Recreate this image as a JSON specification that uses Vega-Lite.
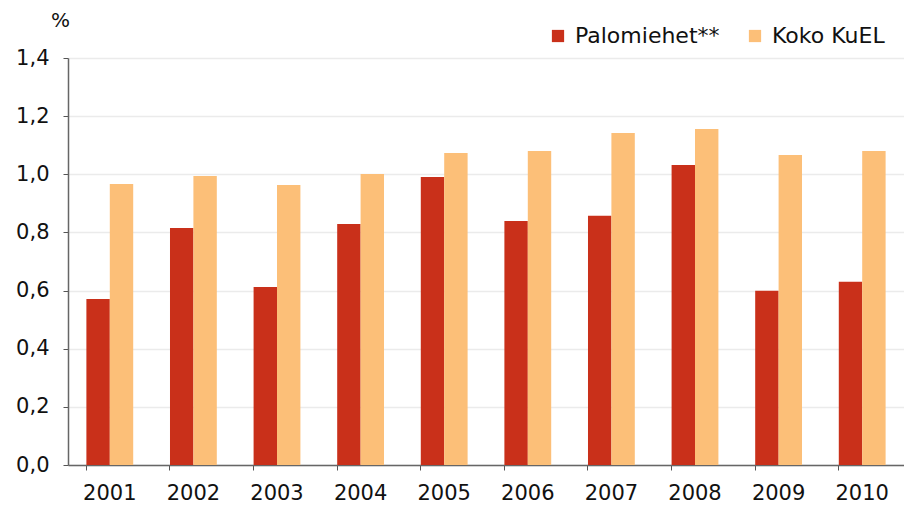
{
  "$schema": "https://vega.github.io/schema/vega-lite/v6.json",
  "width": 836,
  "height": 407,
  "autosize": {"type": "none"},
  "padding": {"left": 68, "top": 58, "right": 0, "bottom": 41},
  "background": "white",
  "config": {"view": {"stroke": null}, "font": "DejaVu Sans"},
  "data": {
    "values": [
      {"year": "2001", "series": "Palomiehet**", "value": 0.571},
      {"year": "2002", "series": "Palomiehet**", "value": 0.815},
      {"year": "2003", "series": "Palomiehet**", "value": 0.612},
      {"year": "2004", "series": "Palomiehet**", "value": 0.829},
      {"year": "2005", "series": "Palomiehet**", "value": 0.991},
      {"year": "2006", "series": "Palomiehet**", "value": 0.839},
      {"year": "2007", "series": "Palomiehet**", "value": 0.857},
      {"year": "2008", "series": "Palomiehet**", "value": 1.032},
      {"year": "2009", "series": "Palomiehet**", "value": 0.599},
      {"year": "2010", "series": "Palomiehet**", "value": 0.630},
      {"year": "2001", "series": "Koko KuEL", "value": 0.967},
      {"year": "2002", "series": "Koko KuEL", "value": 0.994},
      {"year": "2003", "series": "Koko KuEL", "value": 0.963},
      {"year": "2004", "series": "Koko KuEL", "value": 1.001},
      {"year": "2005", "series": "Koko KuEL", "value": 1.073},
      {"year": "2006", "series": "Koko KuEL", "value": 1.080},
      {"year": "2007", "series": "Koko KuEL", "value": 1.142},
      {"year": "2008", "series": "Koko KuEL", "value": 1.156},
      {"year": "2009", "series": "Koko KuEL", "value": 1.066},
      {"year": "2010", "series": "Koko KuEL", "value": 1.080}
    ]
  },
  "mark": {"type": "bar"},
  "encoding": {
    "x": {
      "field": "year",
      "type": "nominal",
      "scale": {"paddingInner": 0.44, "paddingOuter": 0.22},
      "axis": {
        "title": null,
        "labelAngle": 0,
        "labelFontSize": 21,
        "labelColor": "#111111",
        "labelPadding": 12,
        "bandPosition": 0,
        "tickSize": 5,
        "tickColor": "#555555",
        "domainColor": "#666666",
        "domainWidth": 1.5,
        "grid": false
      }
    },
    "xOffset": {"field": "series", "sort": ["Palomiehet**", "Koko KuEL"]},
    "y": {
      "field": "value",
      "type": "quantitative",
      "scale": {"domain": [0, 1.4]},
      "axis": {
        "title": "%",
        "titleAngle": 0,
        "titleFontSize": 20,
        "titleFontWeight": "normal",
        "titleColor": "#111111",
        "titleX": -8,
        "titleY": -38,
        "titleAlign": "center",
        "titleBaseline": "middle",
        "values": [0, 0.2, 0.4, 0.6, 0.8, 1.0, 1.2, 1.4],
        "labelExpr": "replace(format(datum.value, '.1f'), '.', ',')",
        "labelFontSize": 21,
        "labelColor": "#111111",
        "labelPadding": 14,
        "tickSize": 5,
        "tickColor": "#555555",
        "domainColor": "#666666",
        "domainWidth": 1.5,
        "gridColor": "#ebebeb",
        "gridWidth": 1.5
      }
    },
    "color": {
      "field": "series",
      "type": "nominal",
      "sort": ["Palomiehet**", "Koko KuEL"],
      "scale": {"domain": ["Palomiehet**", "Koko KuEL"], "range": ["#c9301a", "#fcbf78"]},
      "legend": {
        "title": null,
        "orient": "none",
        "direction": "horizontal",
        "legendX": 479,
        "legendY": -33,
        "symbolType": "square",
        "symbolSize": 150,
        "labelFontSize": 22,
        "labelColor": "#111111",
        "columnPadding": 24,
        "labelOffset": 6
      }
    }
  }
}
